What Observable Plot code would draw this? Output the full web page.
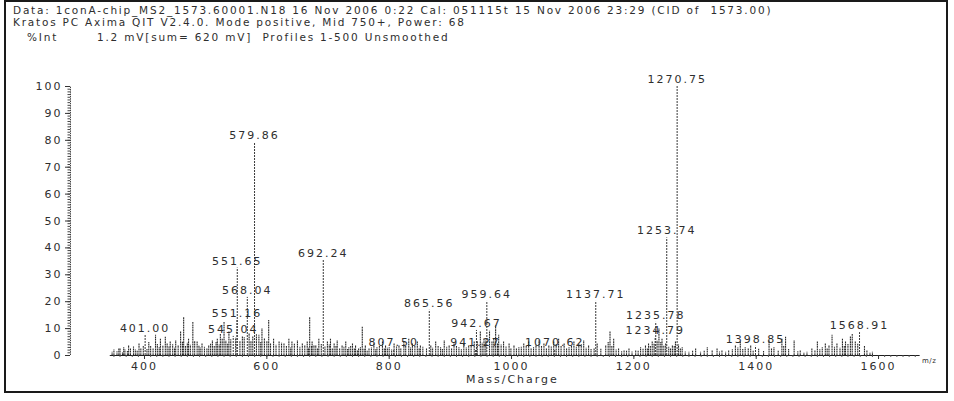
<!DOCTYPE html>
<html><head><meta charset="utf-8">
<script src="https://cdn.jsdelivr.net/npm/d3@7"></script>
<script src="https://cdn.jsdelivr.net/npm/@observablehq/plot@0.6"></script>
<style>
body{margin:0;background:#fff;width:954px;height:401px;overflow:hidden;position:relative;font-family:"DejaVu Sans",sans-serif;color:#2e2e2e}
#chart{position:absolute;left:0;top:0}
#frame{position:absolute;left:4px;top:0;width:940px;height:389px;border:2px solid #1a1a1a;pointer-events:none}
.hd{position:absolute;font-size:10.5px;letter-spacing:1.8px;white-space:pre;line-height:10px}
.ms text{letter-spacing:2px}
</style></head><body>
<div id="chart"></div>
<div id="frame"></div>
<div class="hd" id="l1" style="left:13px;top:5px"></div>
<div class="hd" id="l2" style="left:13px;top:17px"></div>
<div class="hd" id="l3a" style="left:27px;top:32px"></div>
<div class="hd" id="l3b" style="left:97px;top:32px"></div>
<div class="hd" id="xl" style="left:466px;top:375px;font-size:11px;letter-spacing:2px"></div>
<div class="hd" id="unit" style="left:922px;top:356px;font-size:7px;letter-spacing:0.5px"></div>
<script>
// ---- texts ----
const headerLine1 = "Data: 1conA-chip_MS2_1573.60001.N18 16 Nov 2006 0:22 Cal: 051115t 15 Nov 2006 23:29 (CID of  1573.00)";
const headerLine2 = "Kratos PC Axima QIT V2.4.0. Mode positive, Mid 750+, Power: 68";
const yTitle = "%Int";
const infoLine = "1.2 mV[sum= 620 mV]  Profiles 1-500 Unsmoothed";
const xTitle = "Mass/Charge";
const unitText = "m/z";

// ---- labelled peaks ----
const labelMz  = [401.00, 545.04, 551.16, 551.65, 568.04, 579.86, 692.24, 807.50, 865.56, 941.27, 942.67, 959.64, 1070.62, 1137.71, 1234.79, 1235.78, 1253.74, 1270.75, 1398.85, 1568.91];
const labelInt = [7.5, 7.1, 13.1, 32.5, 21.6, 79.1, 35.4, 2.2, 16.8, 2.2, 9.3, 20.1, 2.2, 20.1, 6.7, 12.3, 43.7, 100, 3.4, 8.5];

// ---- unlabelled (noise) peaks [m/z, %Int] ----
const noisePeaks = [
[358,2.5],[366,3],[374,3.7],[385,2],[391,4.4],[407,4.8],[418,7.5],[426,6.2],[434,6.8],[442,5],[451,5.6],[459,8.7],[464,14],[472,6.2],[479,12.4],[486,5],[494,4.4],[505,3.7],[511,5.6],[519,6.2],[524,8],[530,12.4],[538,8.7],[587,7.5],[592,10],[603,13],[611,6.2],[620,5],[628,4.4],[636,6.2],[641,5],[650,5.6],[658,4.4],[666,5],[670,14],[677,3.7],
[674,5],[680,3.7],[685,6.2],[699,5],[704,6.2],[710,4.4],[715,5.6],[723,3.7],[729,5],[734,3],[740,4.4],[745,3.7],[750,2.5],[756,10.6],[761,3.7],[767,2.5],[775,4.4],[780,3],[789,5],[794,3.7],[800,3],[808,4.4],[816,3.7],[824,5],[832,6.2],[838,4.4],[846,5],[851,3.7],[868,3.7],[876,5],[884,3],[890,5.6],[898,3.7],[906,4.4],[914,3],[922,4.4],[930,3.7],[939,5],[949,8.7],[955,6.2],[964,9],[968,5],[974,11],[979,7.5],[987,5],[996,4.4],[1004,3.7],[1012,3],
[1020,4.4],[1028,5],[1036,3],[1045,5.6],[1053,4.4],[1061,3.7],[1069,5],[1077,6.2],[1086,4.4],[1094,3],[1102,5],[1110,4.4],[1118,5.6],[1126,3.7],[1135,2.5],[1154,3.7],[1161,8.7],[1167,6.2],[1175,2.5],[1184,1.9],[1192,2.5],[1203,1.9],[1211,3],[1219,3.7],[1224,4.4],[1230,5],[1241,10],[1246,6.2],[1252,4.4],[1263,3.7],[1268,5],[1279,3],[1290,1.2],[1301,2.5],[1309,1.2],[1320,3],[1328,1.9],[1336,2.5],[1344,1.9],
[1355,1.9],[1366,3.7],[1374,5],[1382,3],[1391,3.7],[1421,5.6],[1429,3],[1442,6.2],[1448,6.8],[1462,5.6],[1472,1.9],[1483,1.2],[1491,2.5],[1500,5],[1508,3],[1513,4.4],[1519,3.7],[1524,7.5],[1532,4.4],[1541,6.2],[1546,5],[1554,7],[1557,8],[1581,1.9],[1590,1.2],
[347,1.2],[350,2],[355,1.4],[360,2.6],[364,1.1],[368,2],[372,1.5],[377,2.4],[382,3.2],[388,1.8],[394,2.6],[398,3.5],[404,2.2],[410,3.4],[414,2.7],[421,4.1],[424,3],[430,3.6],[437,4.5],[440,3.2],[446,4],[449,2.8],[455,3.7],[462,4.9],[467,3.3],[470,4.6],[475,3.8],[482,5.2],[489,3.6],[491,2.9],[498,3.1],[502,2.6],[508,4.2],[514,3.5],[517,4.8],[522,3.9],[527,6.1],[533,5.5],[536,4.2],[541,5.9],[549,6.4],[556,5.3],[560,7.2],[563,6.6],[571,8.2],[574,5.1],[577,6.9],[583,7.7],[590,4.8],[596,6.3],[600,5.2],[606,4.4],[615,3.8],[624,4.6],[632,3.3],[639,2.9],[645,4.2],[654,3.1],[662,3.7],[668,2.8],[673,3.4],[683,2.6],[689,4.1],[695,3.2],[702,3.9],[707,2.7],[713,3.3],[719,2.4],[726,3.1],[732,2.2],[737,3.5],[743,2.6],[748,1.9],[753,3],[759,2.3],[764,1.8],[771,2.9],[778,2.1],[784,3.3],[792,2.4],[797,2.8],[804,2],[812,3.2],[819,2.5],[827,3.6],[835,2.9],[842,3.5],[849,2.7],[855,3.1],[861,2.4],[871,2.8],[880,3.4],[887,2.2],[894,3.1],[902,2.6],[910,3.3],[918,2.1],[926,2.9],[934,3.6],[944,5.2],[952,4.6],[958,5.8],[971,6.3],[977,4.5],[983,3.9],[991,3.2],[999,2.7],[1008,2.4],[1016,3.1],[1024,3.6],[1032,2.5],[1040,3.8],[1049,3.3],[1057,2.6],[1065,3.2],[1073,4.1],[1081,3.5],[1090,2.4],[1098,3.6],[1106,3.1],[1114,4],[1122,2.8],[1130,2.2],[1140,4.5],[1146,2.3],[1158,4.8],[1164,3.5],[1171,2],[1180,1.4],[1188,1.6],[1197,1.3],[1207,1.7],[1215,2.3],[1222,2.6],[1227,3.4],[1233,4.2],[1238,5.5],[1244,4.8],[1249,3.6],[1257,3.1],[1260,2.7],[1266,3.4],[1273,3.9],[1276,2.5],[1284,1.3],[1296,1.6],[1315,1.8],[1340,1.3],[1350,1.2],[1361,2.1],[1370,2.9],[1378,2.2],[1387,2.6],[1395,1.8],[1404,2.3],[1412,1.5],[1425,2.4],[1436,1.7],[1445,3.5],[1453,2.2],[1468,1.4],[1478,1],[1496,1.9],[1504,2.1],[1516,2.6],[1528,3.1],[1537,2.8],[1544,3.3],[1550,4.1],[1562,5],[1566,4.2],[1577,3.4],[1586,1]
];

// ---- axes ----
const xTicks = [400, 600, 800, 1000, 1200, 1400, 1600];
const yTicks = [0, 10, 20, 30, 40, 50, 60, 70, 80, 90, 100];
const xDomain = [279, 1668.6];
const baselineRange = [344, 1668];

document.getElementById("l1").textContent = headerLine1;
document.getElementById("l2").textContent = headerLine2;
document.getElementById("l3a").textContent = yTitle;
document.getElementById("l3b").textContent = infoLine;
document.getElementById("xl").textContent = xTitle;
document.getElementById("unit").textContent = unitText;

const labelled = labelMz.map((mz, i) => ({mz, int: labelInt[i]}));
const noise = noisePeaks.map(([mz, int]) => ({mz, int}));

const chart = Plot.plot({
  width: 954, height: 401,
  marginLeft: 70, marginRight: 34, marginTop: 86, marginBottom: 46,
  className: "ms",
  style: {fontFamily: "DejaVu Sans, sans-serif", fontSize: "11px", color: "#2e2e2e", background: "transparent"},
  x: {domain: xDomain},
  y: {domain: [0, 100]},
  marks: [
    Plot.ruleX(noise, {x: "mz", y1: 0, y2: "int", stroke: "#2a2a2a", strokeWidth: 1.1, strokeDasharray: "1.8 0.6"}),
    Plot.ruleX(labelled, {x: "mz", y1: 0, y2: "int", stroke: "#3a3a3a", strokeWidth: 1, strokeDasharray: "2 1"}),
    Plot.ruleY([0], {x1: baselineRange[0], x2: baselineRange[1], stroke: "#1e1e1e", strokeWidth: 1.2}),
    Plot.ruleX([xDomain[0]], {y1: 0, y2: 100, stroke: "#444", strokeWidth: 1, strokeDasharray: "1.5 0.8"}),
    Plot.axisY({ticks: d3.range(0, 101, 1), tickSize: 2.5, tickFormat: () => "", label: null, stroke: "#444"}),
    Plot.axisY({ticks: yTicks, tickSize: 5, tickPadding: 3, tickFormat: d => String(d), label: null, fill: "#2e2e2e", stroke: "#333"}),
    Plot.axisX({ticks: d3.range(350, 1661, 10), tickSize: 2, tickFormat: () => "", label: null, stroke: "#555"}),
    Plot.axisX({ticks: xTicks, tickSize: 4, tickPadding: 3, tickFormat: d => String(d), label: null, fill: "#2e2e2e", stroke: "#333"}),
    Plot.text(labelled, {x: "mz", y: "int", text: d => d.mz.toFixed(2), dy: -7, lineAnchor: "middle", textAnchor: "middle", fill: "#2e2e2e", fontSize: 11})
  ]
});
document.getElementById("chart").appendChild(chart);
</script>
</body></html>
